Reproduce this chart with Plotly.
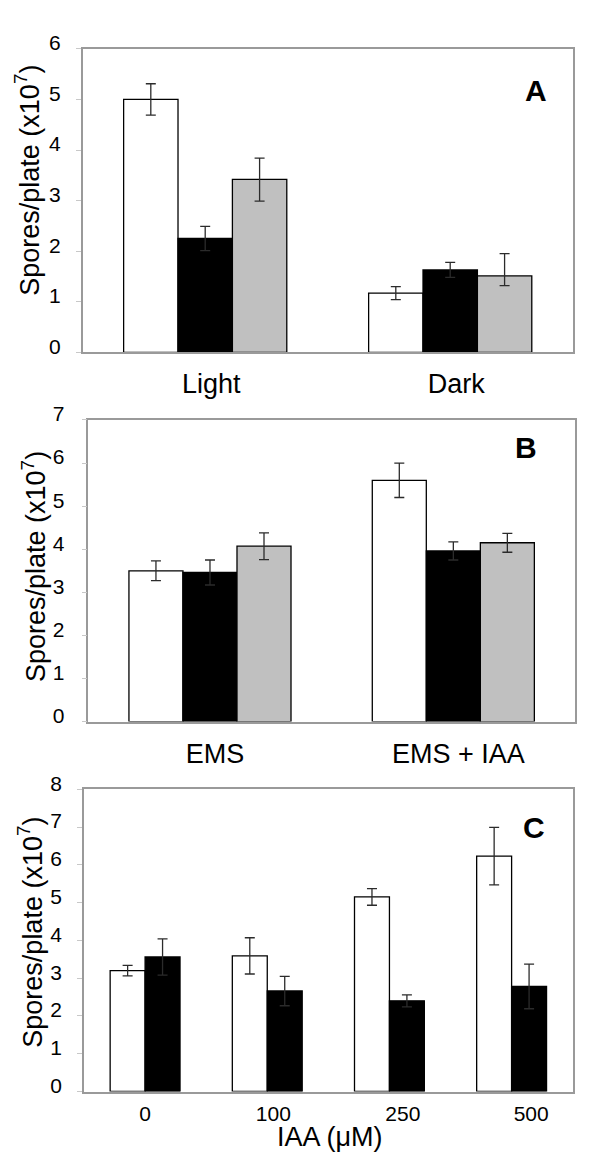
import plotly.graph_objects as go

# ---------------- data ----------------
cat_a = ["Light", "Dark"]
a_white = [5.00, 1.17]
a_white_err = [0.31, 0.13]
a_black = [2.25, 1.63]
a_black_err = [0.24, 0.15]
a_gray = [3.42, 1.51]
a_gray_err_plus = [0.42, 0.44]
a_gray_err_minus = [0.43, 0.19]

cat_b = ["EMS", "EMS + IAA"]
b_white = [3.50, 5.60]
b_white_err = [0.23, 0.40]
b_black = [3.46, 3.96]
b_black_err = [0.29, 0.21]
b_gray = [4.07, 4.15]
b_gray_err = [0.31, 0.22]

cat_c = ["0", "100", "250", "500"]
c_white = [3.20, 3.59, 5.15, 6.23]
c_white_err = [0.14, 0.48, 0.22, 0.76]
c_black = [3.56, 2.66, 2.40, 2.78]
c_black_err = [0.48, 0.39, 0.16, 0.59]

y_ticks_a = [0, 1, 2, 3, 4, 5, 6]
y_ticks_b = [0, 1, 2, 3, 4, 5, 6, 7]
y_ticks_c = [0, 1, 2, 3, 4, 5, 6, 7, 8]

# style: how far each C tick label sits right of its group centre (category units)
c_label_nudge = [0.0, 0.05, 0.11, 0.16]

# ---------------- styling ----------------
FONT = "Liberation Sans, Arial, sans-serif"
W, H = 600, 1172
WHITE, BLACK, GRAY = "#ffffff", "#000000", "#c0c0c0"
EDGE = "#000000"
FRAME = "#9a9a9a"
ERRC = "#2b2b2b"


def err(vals, minus=None):
    d = dict(type="data", array=vals, color=ERRC, thickness=1.3, width=5, visible=True)
    if minus is not None:
        d["symmetric"] = False
        d["arrayminus"] = minus
    return d


fig = go.Figure()

bw3 = 0.222  # bar width for 3-bar groups
# Panel A
for vals, e, col, k, em in [(a_white, a_white_err, WHITE, -1, None),
                            (a_black, a_black_err, BLACK, 0, None),
                            (a_gray, a_gray_err_plus, GRAY, 1, a_gray_err_minus)]:
    fig.add_trace(go.Bar(x=cat_a, y=vals, width=bw3, offset=(k - 0.5) * bw3,
                         marker=dict(color=col, line=dict(color=EDGE, width=1.3)),
                         error_y=err(e, em), xaxis="x", yaxis="y", showlegend=False))
# Panel B
for vals, e, col, k in [(b_white, b_white_err, WHITE, -1),
                        (b_black, b_black_err, BLACK, 0),
                        (b_gray, b_gray_err, GRAY, 1)]:
    fig.add_trace(go.Bar(x=cat_b, y=vals, width=bw3, offset=(k - 0.5) * bw3,
                         marker=dict(color=col, line=dict(color=EDGE, width=1.3)),
                         error_y=err(e), xaxis="x2", yaxis="y2", showlegend=False))
# Panel C (category index positions on a linear axis)
c_pos = list(range(len(cat_c)))
bw2 = 0.286
for vals, e, col, off in [(c_white, c_white_err, WHITE, -bw2),
                          (c_black, c_black_err, BLACK, 0.0)]:
    fig.add_trace(go.Bar(x=c_pos, y=vals, width=bw2, offset=off,
                         marker=dict(color=col, line=dict(color=EDGE, width=1.3)),
                         error_y=err(e), xaxis="x3", yaxis="y3", showlegend=False))


def px_x(p):
    return p / W


def px_y(p):
    return 1 - p / H


common_x = dict(showline=True, linecolor=FRAME, linewidth=1.5, mirror=True, ticks="",
                showgrid=False, zeroline=False,
                tickfont=dict(family=FONT, size=27, color="#000"))
common_y = dict(showline=True, linecolor=FRAME, linewidth=1.5, mirror=True, ticks="outside",
                ticklen=5, tickcolor="#c8c8c8", tickwidth=1, showgrid=False, zeroline=False,
                tickfont=dict(family=FONT, size=21, color="#000"), ticklabelstandoff=11,
                ticklabelshift=-6)

fig.update_layout(
    width=W, height=H, margin=dict(l=0, r=0, t=0, b=0),
    paper_bgcolor="white", plot_bgcolor="white", barmode="group",
    font=dict(family=FONT, color="#000"),
    xaxis=dict(common_x, type="category", domain=[px_x(82.7), px_x(572.7)], anchor="y",
               ticklabelstandoff=7, ticklabelshift=6),
    yaxis=dict(common_y, domain=[px_y(341), px_y(31.5)], anchor="x", range=[0, 6],
               tickvals=y_ticks_a),
    xaxis2=dict(common_x, type="category", domain=[px_x(88.3), px_x(575)], anchor="y2",
                ticklabelstandoff=7, ticklabelshift=5),
    yaxis2=dict(common_y, domain=[px_y(717.7), px_y(410)], anchor="x2", range=[0, 7],
                tickvals=y_ticks_b, ticklabelstandoff=13),
    xaxis3=dict(common_x, type="linear", domain=[px_x(84), px_x(572.7)], anchor="y3",
                range=[-0.5, len(cat_c) - 0.5],
                tickvals=[p + n for p, n in zip(c_pos, c_label_nudge)], ticktext=cat_c,
                tickfont=dict(family=FONT, size=21, color="#000"), ticklabelstandoff=3),
    yaxis3=dict(common_y, domain=[px_y(1095), px_y(786.7)], anchor="x3", range=[0, 8],
                tickvals=y_ticks_c),
)

ytitle = "Spores/plate (x10<sup>7</sup>)"
annos = [
    dict(text=ytitle, x=px_x(27), y=px_y(166), textangle=-90),
    dict(text=ytitle, x=px_x(34), y=px_y(560), textangle=-90),
    dict(text=ytitle, x=px_x(30), y=px_y(933), textangle=-90),
]
for a in annos:
    fig.add_annotation(xref="paper", yref="paper", showarrow=False, xanchor="center",
                       yanchor="middle", font=dict(family=FONT, size=27, color="#000"), **a)

for letter, x, y in [("A", 536, 74), ("B", 526, 438), ("C", 534, 826)]:
    fig.add_annotation(text=letter, xref="paper", yref="paper",
                       x=px_x(x), y=px_y(y), showarrow=False, xanchor="center", yanchor="middle",
                       font=dict(family=FONT, size=30, color="#000", weight="bold"))

fig.add_annotation(text="IAA (\u03bcM)", xref="paper", yref="paper", x=px_x(330), y=px_y(1141),
                   showarrow=False, xanchor="center", yanchor="middle",
                   font=dict(family=FONT, size=27, color="#000"))

fig.write_html("out.html", config={"displayModeBar": False},
               post_script="document.body.style.margin='0';document.body.style.padding='0';")
